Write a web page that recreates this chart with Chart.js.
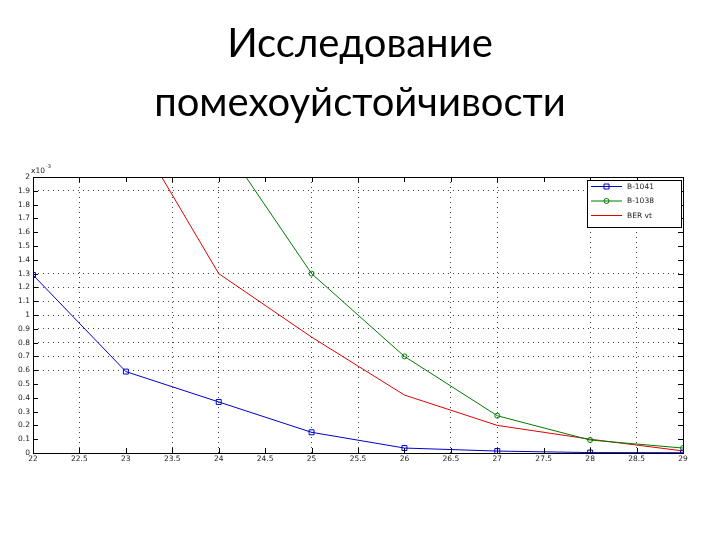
<!DOCTYPE html>
<html>
<head>
<meta charset="utf-8">
<script src="https://cdn.jsdelivr.net/npm/chart.js@4"></script>
<style>
    body { margin: 0; background: #fff; }
    #wrap { position: relative; width: 720px; height: 540px; }
    .title { position: absolute; left: 0; width: 720px; text-align: center;
        font-family: Lato, sans-serif; color: #000; white-space: nowrap;
        font-size: 40px; line-height: 40px; }
    #t1 { top: 22px; }
    #t2 { top: 81px; }
</style>
</head>
<body>
<div id="wrap">
    <canvas id="BerChart" width="720" height="540"></canvas>
    <div class="title" id="t1">Исследование</div>
    <div class="title" id="t2">помехоуйстойчивости</div>
</div>
<script>
// values (y in units of x10^-3)
const snr = [22, 23, 24, 25, 26, 27, 28, 29]
const b1041 = [1.29, 0.59, 0.37, 0.15, 0.036, 0.014, 0.003, 0.002]
const b1038 = [null, null, 2.29, 1.30, 0.70, 0.27, 0.094, 0.036]
const berTheory = [null, 2.44, 1.30, 0.84, 0.42, 0.20, 0.10, 0.015]
const seriesNames = ['B-1041', 'B-1038', 'BER vt']
const seriesColors = ['#0000c8', '#007a00', '#e00000']

// grid lines that are visible in the reference
const xGrid = [22.5, 23.5, 24, 25, 25.5, 26.5, 27, 28, 28.5]
const yGrid = [1.9, 1.3, 1.2, 1.1, 1.0, 0.9, 0.8, 0.7, 0.6]

const toPoints = (vals) => snr.map((x, i) => ({ x: x, y: vals[i] }))
const round1 = v => Math.round(v * 10) / 10
const labelFont = { family: 'DejaVu Sans', size: 7.5 }

// box round the plot, inward ticks, legend box and exponent label
const matlabBox = {
    id: 'matlabBox',
    afterDraw: function (chart) {
        const ctx = chart.ctx
        const a = chart.chartArea
        const xs = chart.scales.x
        const ys = chart.scales.y
        ctx.save()
        ctx.strokeStyle = '#000'
        ctx.lineWidth = 1
        ctx.strokeRect(a.left + 0.5, a.top + 0.5, a.right - a.left, a.bottom - a.top)

        ctx.beginPath()
        xs.ticks.forEach(t => {
            const px = Math.round(xs.getPixelForValue(t.value)) + 0.5
            ctx.moveTo(px, a.bottom); ctx.lineTo(px, a.bottom - 5)
            ctx.moveTo(px, a.top); ctx.lineTo(px, a.top + 5)
        })
        ys.ticks.forEach(t => {
            const py = Math.round(ys.getPixelForValue(t.value)) + 0.5
            ctx.moveTo(a.left, py); ctx.lineTo(a.left + 5, py)
            ctx.moveTo(a.right, py); ctx.lineTo(a.right - 5, py)
        })
        ctx.stroke()

        // exponent
        ctx.fillStyle = '#222'
        ctx.font = '7.5px "DejaVu Sans"'
        ctx.textBaseline = 'alphabetic'
        ctx.fillText('x10', a.left - 2, a.top - 4)
        ctx.font = '5px "DejaVu Sans"'
        ctx.fillText('-3', a.left + 13, a.top - 9)

        // legend
        const lx = 587, ly = 180, lw = 94, lh = 47
        ctx.fillStyle = '#fff'
        ctx.fillRect(lx, ly, lw, lh)
        ctx.strokeStyle = '#000'
        ctx.strokeRect(lx + 0.5, ly + 0.5, lw, lh)
        chart.data.datasets.forEach((ds, i) => {
            const y = ly + 6 + i * 14.5
            ctx.strokeStyle = seriesColors[i]
            ctx.lineWidth = 1
            ctx.beginPath()
            ctx.moveTo(lx + 4, y + 0.5); ctx.lineTo(lx + 35, y + 0.5)
            ctx.stroke()
            if (ds.pointRadius > 0) {
                ctx.beginPath()
                if (ds.pointStyle === 'rect') {
                    ctx.rect(lx + 17, y - 2, 5, 5)
                } else {
                    ctx.arc(lx + 19.5, y + 0.5, 2.5, 0, Math.PI * 2)
                }
                ctx.stroke()
            }
            ctx.fillStyle = '#222'
            ctx.font = '7.5px "DejaVu Sans"'
            ctx.textBaseline = 'middle'
            ctx.fillText(ds.label, lx + 40, y + 1)
        })
        ctx.restore()
    }
}

const ctx = document.getElementById('BerChart').getContext('2d')

const chart = new Chart(ctx, {
    type: 'line',
    data: {
        datasets: [{
            label: seriesNames[0],
            data: toPoints(b1041),
            borderColor: seriesColors[0],
            borderWidth: 1,
            pointStyle: 'rect',
            pointRadius: 3.5,
            pointBorderColor: seriesColors[0],
            pointBackgroundColor: 'rgba(0,0,0,0)',
            pointBorderWidth: 1
        }, {
            label: seriesNames[1],
            data: toPoints(b1038),
            borderColor: seriesColors[1],
            borderWidth: 1,
            pointStyle: 'circle',
            pointRadius: 2.5,
            pointBorderColor: seriesColors[1],
            pointBackgroundColor: 'rgba(0,0,0,0)',
            pointBorderWidth: 1
        }, {
            label: seriesNames[2],
            data: toPoints(berTheory),
            borderColor: seriesColors[2],
            borderWidth: 1,
            pointRadius: 0
        }]
    },
    options: {
        responsive: false,
        animation: false,
        devicePixelRatio: 1,
        layout: { padding: { left: 0, right: 37, top: 177, bottom: 67 } },
        plugins: {
            legend: { display: false },
            title: { display: false },
            tooltip: { enabled: false }
        },
        scales: {
            x: {
                type: 'linear',
                min: 22,
                max: 29,
                afterFit: function (scale) { scale.height = 20 },
                ticks: {
                    stepSize: 0.5,
                    color: '#222',
                    font: labelFont,
                    padding: 2,
                    maxRotation: 0,
                    autoSkip: false,
                    callback: v => String(v)
                },
                grid: {
                    drawTicks: false,
                    color: c => (c.tick && xGrid.includes(c.tick.value)) ? '#444' : 'rgba(0,0,0,0)'
                },
                border: { display: false, dash: [1, 4] }
            },
            y: {
                min: 0,
                max: 2,
                afterFit: function (scale) { scale.width = 33 },
                ticks: {
                    stepSize: 0.1,
                    color: '#222',
                    font: labelFont,
                    padding: 3,
                    autoSkip: false,
                    callback: v => String(round1(v))
                },
                grid: {
                    drawTicks: false,
                    color: c => (c.tick && yGrid.includes(round1(c.tick.value))) ? '#444' : 'rgba(0,0,0,0)'
                },
                border: { display: false, dash: [1, 4] }
            }
        }
    },
    plugins: [matlabBox]
})
</script>
</body>
</html>
